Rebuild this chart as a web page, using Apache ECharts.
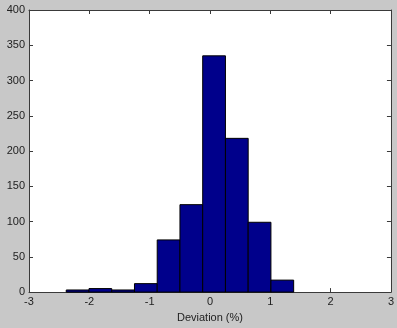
<!DOCTYPE html>
<html>
<head>
<meta charset="utf-8">
<script src="https://cdn.jsdelivr.net/npm/echarts@6/dist/echarts.min.js"></script>
<style>
html,body{margin:0;padding:0;background:#c8c8c8;}
#chart{width:397px;height:328px;}
</style>
</head>
<body>
<div id="chart"></div>
<script>
// Histogram bins (centres, % deviation) and counts
var binCenters = [-2.194, -1.817, -1.440, -1.063, -0.686, -0.309, 0.068, 0.445, 0.822, 1.199];
var counts = [3, 5, 3, 12, 74, 124, 335, 218, 99, 17];
var xTicks = [-3, -2, -1, 0, 1, 2, 3];
var yTicks = [0, 50, 100, 150, 200, 250, 300, 350, 400];
var xLabel = 'Deviation (%)';

var binWidth = binCenters[1] - binCenters[0];
var data = binCenters.map(function (c, i) { return [c, counts[i]]; });

var chart = echarts.init(document.getElementById('chart'));
var font = 'Arial, "Liberation Sans", sans-serif';
var axisLineStyle = { color: '#3a3a3a', width: 1 };
function line() { return { show: true, onZero: false, lineStyle: axisLineStyle }; }
chart.setOption({
  backgroundColor: '#c8c8c8',
  animation: false,
  grid: { left: 29, right: 6, top: 10, bottom: 32, show: true, backgroundColor: '#ffffff', borderWidth: 0 },
  xAxis: [{
    type: 'value', min: xTicks[0], max: xTicks[xTicks.length - 1], interval: 1,
    position: 'bottom',
    name: xLabel, nameLocation: 'middle', nameGap: 18,
    nameTextStyle: { color: '#222', fontSize: 11, fontFamily: font },
    axisLine: line(),
    axisTick: { show: true, inside: true, length: 4, lineStyle: axisLineStyle },
    axisLabel: { color: '#222', fontSize: 11, fontFamily: font, margin: 4 },
    splitLine: { show: false }
  }, {
    type: 'value', min: xTicks[0], max: xTicks[xTicks.length - 1], interval: 1,
    position: 'top',
    axisLine: line(),
    axisTick: { show: true, inside: true, length: 4, lineStyle: axisLineStyle },
    axisLabel: { show: false },
    splitLine: { show: false }
  }],
  yAxis: [{
    type: 'value', min: yTicks[0], max: yTicks[yTicks.length - 1], interval: 50,
    position: 'left',
    axisLine: line(),
    axisTick: { show: true, inside: true, length: 4, lineStyle: axisLineStyle },
    axisLabel: { color: '#222', fontSize: 11, fontFamily: font, margin: 4 },
    splitLine: { show: false }
  }, {
    type: 'value', min: yTicks[0], max: yTicks[yTicks.length - 1], interval: 50,
    position: 'right',
    axisLine: line(),
    axisTick: { show: true, inside: true, length: 4, lineStyle: axisLineStyle },
    axisLabel: { show: false },
    splitLine: { show: false }
  }],
  series: [{
    type: 'custom',
    xAxisIndex: 0, yAxisIndex: 0,
    data: data,
    renderItem: function (params, api) {
      var c = api.value(0), v = api.value(1);
      var p0 = api.coord([c - binWidth / 2, v]);
      var p1 = api.coord([c + binWidth / 2, 0]);
      return {
        type: 'rect',
        shape: { x: p0[0], y: p0[1], width: p1[0] - p0[0], height: p1[1] - p0[1] },
        style: { fill: '#00008b', stroke: '#000000', lineWidth: 1 }
      };
    },
    z: 1
  }]
});
</script>
</body>
</html>
